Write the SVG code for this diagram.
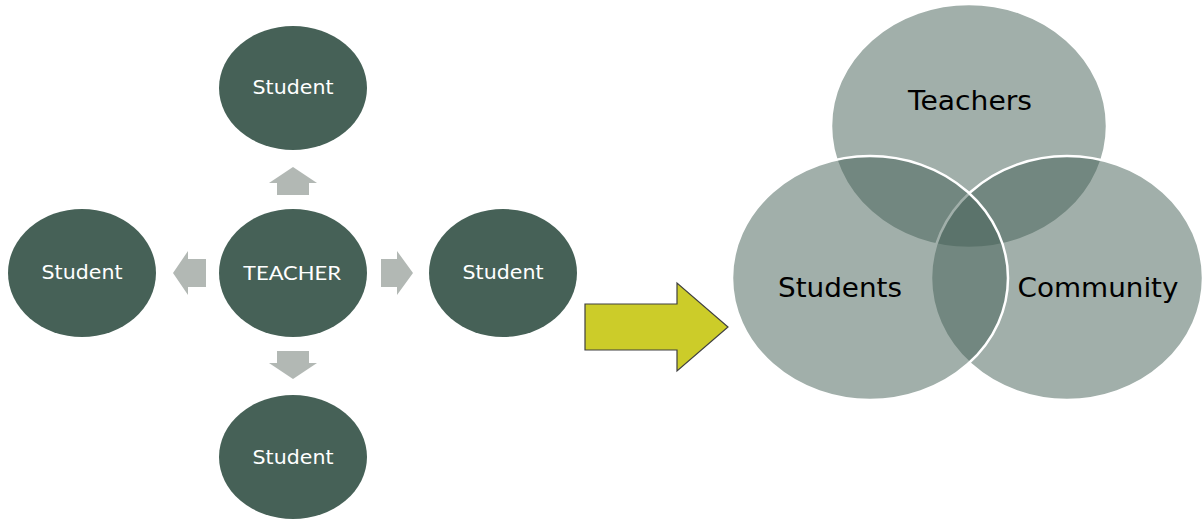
<svg xmlns="http://www.w3.org/2000/svg" width="1202" height="519" viewBox="0 0 1202 519">
  <style>
    .node { fill: #466157; }
    .lbl { font-family: "DejaVu Sans", Verdana, sans-serif; font-size: 20px; fill: #ffffff; text-anchor: middle; }
    .hub { font-family: Lato, "Open Sans", sans-serif; font-size: 20px; fill: #ffffff; text-anchor: middle; }
    .dir { fill: #b2b8b4; }
    .venn { fill: #435f55; fill-opacity: 0.5; stroke: #ffffff; stroke-width: 2.5; }
    .vlbl { font-family: "DejaVu Sans", Verdana, sans-serif; font-size: 26px; fill: #000000; text-anchor: middle; }
  </style>

  <!-- teacher-centred model -->
  <g id="teacher">
    <ellipse class="node" cx="293" cy="273" rx="74" ry="64"/>
    <text class="hub" x="292" y="280" textLength="98" lengthAdjust="spacingAndGlyphs">TEACHER</text>
  </g>
  <g id="student-top">
    <ellipse class="node" cx="293" cy="88" rx="74" ry="62"/>
    <text class="lbl" x="293" y="94" textLength="81" lengthAdjust="spacingAndGlyphs">Student</text>
  </g>
  <g id="student-left">
    <ellipse class="node" cx="82" cy="273" rx="74" ry="64"/>
    <text class="lbl" x="82" y="279" textLength="81" lengthAdjust="spacingAndGlyphs">Student</text>
  </g>
  <g id="student-right">
    <ellipse class="node" cx="503" cy="273" rx="74" ry="64"/>
    <text class="lbl" x="503" y="279" textLength="81" lengthAdjust="spacingAndGlyphs">Student</text>
  </g>
  <g id="student-bottom">
    <ellipse class="node" cx="293" cy="457" rx="74" ry="62"/>
    <text class="lbl" x="293" y="464" textLength="81" lengthAdjust="spacingAndGlyphs">Student</text>
  </g>

  <g id="connectors">
    <!-- up -->
    <polygon class="dir" points="277,195 309,195 309,183 317,183 293,167 269,183 277,183"/>
    <!-- down -->
    <polygon class="dir" points="277,351 309,351 309,363 317,363 293,379 269,363 277,363"/>
    <!-- left -->
    <polygon class="dir" points="206,259 206,287 188,287 188,295 173,273 188,251 188,259"/>
    <!-- right -->
    <polygon class="dir" points="381,259 381,287 397,287 397,295 413,273 397,251 397,259"/>
    <!-- transition arrow -->
    <polygon points="585,304 677,304 677,283 728,327 677,371 677,350 585,350" fill="#cccc29" stroke="#404040" stroke-width="1.2"/>
  </g>

  <!-- shared-community model -->
  <g id="venn-teachers">
    <ellipse class="venn" cx="969" cy="126" rx="138" ry="122"/>
  </g>
  <g id="venn-community">
    <ellipse class="venn" cx="1067" cy="278" rx="136" ry="122"/>
  </g>
  <g id="venn-students">
    <ellipse class="venn" cx="870" cy="278" rx="138" ry="122"/>
  </g>
  <g id="venn-labels">
    <text class="vlbl" x="970" y="110" textLength="124" lengthAdjust="spacingAndGlyphs">Teachers</text>
    <text class="vlbl" x="840" y="297" textLength="124" lengthAdjust="spacingAndGlyphs">Students</text>
    <text class="vlbl" x="1098" y="297" textLength="161" lengthAdjust="spacingAndGlyphs">Community</text>
  </g>
</svg>
